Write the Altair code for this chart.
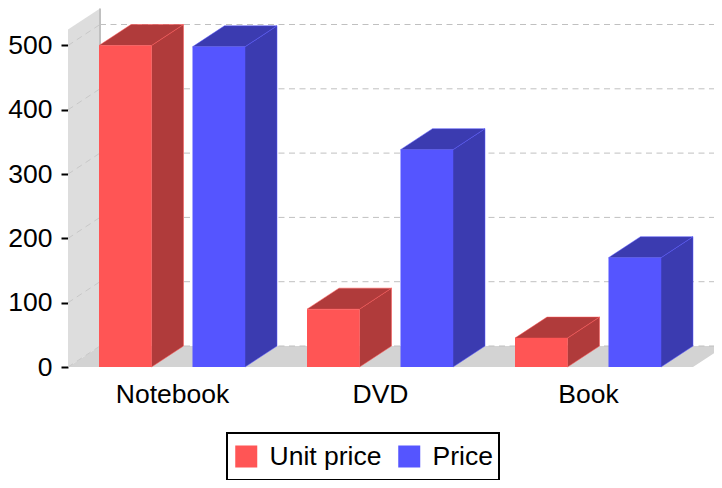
import altair as alt
import pandas as pd

categories = ["Notebook", "DVD", "Book"]
series_names = ["Unit price", "Price"]
unit_price = [500, 90, 45]
price = [498, 338, 170]
tick_values = [0, 100, 200, 300, 400, 500]

FONT = "Liberation Sans"
FONT_SIZE = 26.5
FRONT = {"Unit price": "#FF5555", "Price": "#5555FF"}
DARK = {"Unit price": "#B03B3B", "Price": "#3B3BB0"}

W, H = 646, 359
PX = 0.643
Y_MAX = H / PX
DX, DY = 32, 21 / PX
STEP = 208
BAR = 52.5
START = {"Unit price": 31, "Price": 124.5}
WALL_TOP = 525
FLOOR_END = 625

xs = alt.Scale(domain=[0, W], nice=False, zero=False)
ys = alt.Scale(domain=[0, Y_MAX], nice=False, zero=False)
centers = [104 + STEP * i for i in range(len(categories))]
label_expr = "%r[indexof(%r, datum.value)]" % (categories, centers)

y_axis = alt.Axis(
    values=tick_values, grid=False, domain=False, tickSize=7, tickWidth=2,
    tickColor="black", labelFontSize=FONT_SIZE, labelFont=FONT, labelColor="black",
    labelPadding=9,
)
x_axis = alt.Axis(
    values=centers, grid=False, domain=False, ticks=False, labelExpr=label_expr,
    labelFontSize=FONT_SIZE, labelFont=FONT, labelColor="black", labelPadding=14,
    labelOverlap=False, labelBound=False, labelFlush=False,
)


def X():
    return alt.X("x:Q", scale=xs, axis=x_axis, title=None)


def Y():
    return alt.Y("y:Q", scale=ys, axis=y_axis, title=None, stack=None)


fronts, faces = [], {s: [] for s in series_names}
for s, vals in zip(series_names, [unit_price, price]):
    for i, v in enumerate(vals):
        l = START[s] + STEP * i
        r = l + BAR
        fronts.append({"series": s, "x": l, "x2": r, "y": v, "y2": 0})
        sid = f"{s}{i}side"
        faces[s] += [
            {"id": sid, "x": r, "y": v, "y2": 0},
            {"id": sid, "x": r + DX, "y": v + DY, "y2": DY},
        ]
        tid = f"{s}{i}top"
        faces[s] += [
            {"id": tid, "x": l, "y": v, "y2": v},
            {"id": tid, "x": l + DX, "y": v + DY, "y2": v},
            {"id": tid, "x": r, "y": v + DY, "y2": v},
            {"id": tid, "x": r + DX, "y": v + DY, "y2": v + DY},
        ]

wall_df = pd.DataFrame([
    {"x": 0, "y": WALL_TOP, "y2": 0},
    {"x": DX, "y": WALL_TOP + DY, "y2": DY},
])
floor_df = pd.DataFrame([
    {"x": 0, "y": 0, "y2": 0},
    {"x": DX, "y": DY, "y2": 0},
    {"x": FLOOR_END, "y": DY, "y2": 0},
    {"x": W, "y": DY, "y2": (W - FLOOR_END) / DX * DY},
])
grid_df = pd.DataFrame([{"x": DX, "x2": W, "y": v + DY} for v in tick_values])
diag_df = pd.DataFrame(
    [{"id": v, "x": 0, "y": v} for v in tick_values]
    + [{"id": v, "x": DX, "y": v + DY} for v in tick_values]
)
edge_df = pd.DataFrame([{"x": DX, "y": DY, "y2": WALL_TOP + DY}])

wall = alt.Chart(wall_df).mark_area(color="#DDDDDD").encode(
    x=X(), y=Y(), y2="y2:Q"
)
floor = alt.Chart(floor_df).mark_area(color="#D3D3D3").encode(
    x=X(), y=Y(), y2="y2:Q"
)
edge = alt.Chart(edge_df).mark_rule(color="#C0C0C0", strokeWidth=2).encode(
    x=X(), y=Y(), y2="y2:Q"
)
grid = alt.Chart(grid_df).mark_rule(
    color="#C0C0C0", strokeWidth=1, strokeDash=[6, 4.5]
).encode(x=X(), x2="x2:Q", y=Y())
diag = alt.Chart(diag_df).mark_line(
    color="#C8C8C8", strokeWidth=1, strokeDash=[6, 4.5]
).encode(x=X(), y=Y(), detail="id:N")

face_layers = [
    alt.Chart(pd.DataFrame(faces[s])).mark_area(
        color=DARK[s], stroke=FRONT[s], strokeWidth=0.5
    ).encode(x=X(), y=Y(), y2="y2:Q", detail="id:N")
    for s in series_names
]

front = alt.Chart(pd.DataFrame(fronts)).mark_rect().encode(
    x=X(), x2="x2:Q", y=Y(), y2="y2:Q",
    fill=alt.Fill(
        "series:N",
        scale=alt.Scale(domain=series_names, range=[FRONT[s] for s in series_names]),
        legend=alt.Legend(
            orient="none", legendX=159, legendY=425, title=None, direction="horizontal",
            columns=2, columnPadding=14, symbolType="square", symbolSize=484,
            symbolStrokeWidth=0, symbolOpacity=1, labelFontSize=FONT_SIZE, labelFont=FONT,
            labelColor="black", labelOffset=10, strokeColor="black",
            fillColor="white", padding=6, clipHeight=35,
        ),
    ),
)

chart = alt.layer(wall, floor, edge, grid, diag, *face_layers, front).properties(
    width=W, height=H,
    padding={"left": 60, "top": 0, "right": 0, "bottom": 113},
    autosize=alt.AutoSizeParams(type="none"),
).configure_view(stroke=None).configure_legend(strokeWidth=2)

chart.save("out.html", embed_options={"renderer": "svg", "actions": False})
